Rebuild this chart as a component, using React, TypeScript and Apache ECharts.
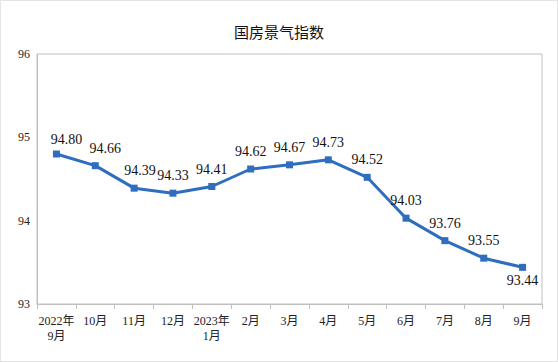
import React, { useEffect, useRef } from "react";
import * as echarts from "echarts";

const categories = ["2022年\n9月", "10月", "11月", "12月", "2023年\n1月", "2月", "3月", "4月", "5月", "6月", "7月", "8月", "9月"];
const values = [94.8, 94.66, 94.39, 94.33, 94.41, 94.62, 94.67, 94.73, 94.52, 94.03, 93.76, 93.55, 93.44];
const title = "国房景气指数";

export default function App() {
  const ref = useRef<HTMLDivElement>(null);
  useEffect(() => {
    document.body.style.margin = "0";
    const chart = echarts.init(ref.current!, null, { renderer: "svg" });
    const serif = "'Liberation Serif', 'Noto Sans CJK SC', serif";
    chart.setOption({
      animation: false,
      backgroundColor: "#fff",
      title: {
        text: title,
        left: "center",
        top: 18,
        textStyle: { fontFamily: "'Noto Sans CJK SC', sans-serif", fontSize: 15, fontWeight: "normal", color: "#111" },
      },
      grid: { left: 36, right: 15, top: 53, bottom: 57, show: true, borderColor: "#c0c0c0", borderWidth: 1 },
      xAxis: {
        type: "category",
        data: categories,
        boundaryGap: true,
        axisLine: { lineStyle: { color: "#c0c0c0" } },
        axisTick: { show: true, length: 5, lineStyle: { color: "#c0c0c0" } },
        axisLabel: { fontFamily: serif, fontSize: 12, color: "#222", margin: 9, lineHeight: 15, interval: 0 },
      },
      yAxis: {
        type: "value",
        min: 93,
        max: 96,
        interval: 1,
        splitLine: { show: false },
        axisLine: { show: true, lineStyle: { color: "#c0c0c0" } },
        axisTick: { show: false },
        axisLabel: { fontFamily: serif, fontSize: 12, color: "#222", margin: 7 },
      },
      series: [
        {
          type: "line",
          data: values.map((v, i) => ({
            value: v,
            label:
              i === values.length - 1
                ? { position: "bottom", distance: 3 }
                : i === 0
                ? { offset: [10, 3] }
                : i === 1
                ? { offset: [10, 0] }
                : i === 2
                ? { offset: [6, 0] }
                : {},
          })),
          symbol: "rect",
          symbolSize: 7,
          lineStyle: { color: "#2f6ebe", width: 3 },
          itemStyle: { color: "#2f6ebe" },
          label: {
            show: true,
            position: "top",
            distance: 7,
            fontFamily: serif,
            fontSize: 14,
            color: "#111",
            formatter: (p: any) => Number(p.value).toFixed(2),
          },
        },
      ],
    });
    return () => chart.dispose();
  }, []);
  return (
    <div
      ref={ref}
      style={{ width: 558, height: 362, boxSizing: "border-box", border: "1px solid #e4e4e4" }}
    />
  );
}
